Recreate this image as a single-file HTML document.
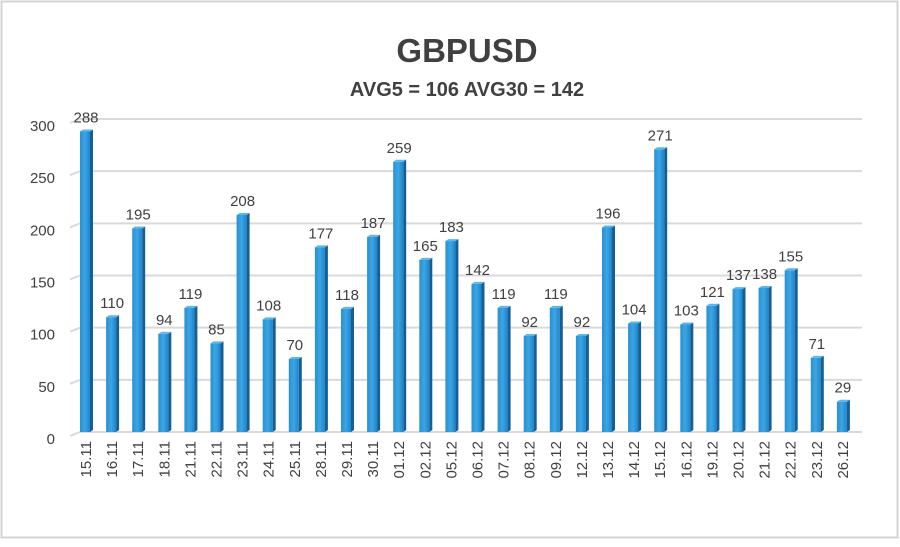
<!DOCTYPE html>
<html><head><meta charset="utf-8"><style>
body{margin:0;background:#fff}
svg{display:block}
text{font-family:"Liberation Sans",sans-serif;fill:#404040}
</style></head><body>
<svg width="900" height="547" viewBox="0 0 900 547">
<defs>
<linearGradient id="g" x1="0" x2="1" y1="0" y2="0">
<stop offset="0" stop-color="#2a8fd0"/><stop offset="0.5" stop-color="#3aa6e6"/><stop offset="1" stop-color="#1f84c8"/>
</linearGradient>
</defs>
<rect x="1.5" y="1.5" width="896" height="536" fill="#fff" stroke="#d4d4d4" stroke-width="2"/>
<text x="467" y="62" font-size="33" font-weight="bold" text-anchor="middle">GBPUSD</text>
<text x="467" y="96" font-size="20" font-weight="bold" text-anchor="middle">AVG5 = 106 AVG30 = 142</text>
<g id="grid" stroke="#d9d9d9" stroke-width="2"></g>
<g id="ylab" font-size="15" text-anchor="end"></g>
<g id="bars"></g>
</svg>
<script>
const vals=[288,110,195,94,119,85,208,108,70,177,118,187,259,165,183,142,119,92,119,92,196,104,271,103,121,137,138,155,71,29];
const dates=["15.11","16.11","17.11","18.11","21.11","22.11","23.11","24.11","25.11","28.11","29.11","30.11","01.12","02.12","05.12","06.12","07.12","08.12","09.12","12.12","13.12","14.12","15.12","16.12","19.12","20.12","21.12","22.12","23.12","26.12"];
const ns="http://www.w3.org/2000/svg";
function el(t,a,p,txt){const e=document.createElementNS(ns,t);for(const k in a)e.setAttribute(k,a[k]);if(txt!=null)e.textContent=txt;document.getElementById(p).appendChild(e);return e;}
const y0=432,s=313/300;
for(let v=0;v<=300;v+=50){const y=y0-v*s;
el('line',{x1:80,x2:862,y1:y,y2:y},'grid');
el('line',{x1:70,x2:80,y1:y+4,y2:y},'grid');
el('text',{x:55,y:y+12},'ylab',v);}
vals.forEach((v,i)=>{const x=80+i*26.1,h=v*s,top=y0-h;
el('rect',{x:x,y:top,width:10,height:h,fill:'url(#g)'},'bars');
el('polygon',{points:`${x+10},${top} ${x+13},${top-2} ${x+13},${y0-2} ${x+10},${y0}`,fill:'#155f95'},'bars');
el('polygon',{points:`${x},${top} ${x+3},${top-2} ${x+13},${top-2} ${x+10},${top}`,fill:'#5bb5ea'},'bars');
el('text',{x:x+6,y:top-9,'font-size':15,'text-anchor':'middle'},'bars',v);
el('text',{x:0,y:0,'font-size':15,'text-anchor':'end',transform:`translate(${x+11},441) rotate(-90)`},'bars',dates[i]);
});
</script>
</body></html>
